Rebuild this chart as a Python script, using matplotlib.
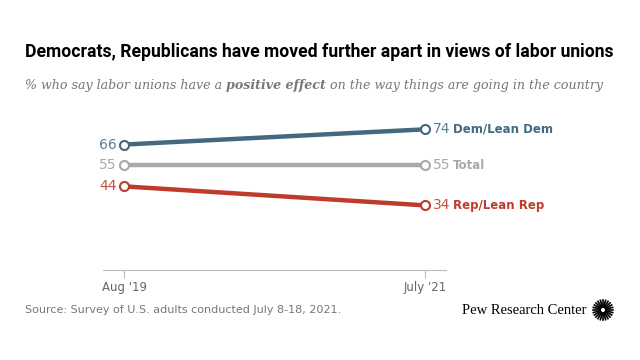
import matplotlib
matplotlib.use("Agg")
import matplotlib.pyplot as plt
import numpy as np

# data
periods = ["Aug '19", "July '21"]
dem = [66, 74]
total = [55, 55]
rep = [44, 34]
series_names = ["Dem/Lean Dem", "Total", "Rep/Lean Rep"]
series_vals = [dem, total, rep]
colors = ["#44687f", "#a9a9a9", "#bf3b2b"]
num_colors = ["#5b7d95", "#a9a9a9", "#c9503d"]

fig = plt.figure(figsize=(6.4, 3.6), dpi=100)
ax = fig.add_axes([103 / 640, 0.25, (446 - 103) / 640, 0.528])
renderer = fig.canvas.get_renderer()

x = np.arange(len(periods))
for name, vals, c, nc in zip(series_names, series_vals, colors, num_colors):
    ax.plot(x, vals, color=c, lw=3.2, solid_capstyle="butt", zorder=2)
    ax.plot(x, vals, "o", ms=6.5, mfc="white", mec=c, mew=1.5, zorder=3)
    ax.text(x[0] - 0.025, vals[0], str(vals[0]), color=nc, fontsize=10,
            ha="right", va="center")
    ax.text(x[-1] + 0.025, vals[-1], str(vals[-1]), color=nc, fontsize=10,
            ha="left", va="center")
    ax.text(x[-1] + 0.093, vals[-1], name, color=c, fontsize=8.5,
            fontweight="bold", ha="left", va="center")

ax.set_xlim(-0.07, 1.07)
ax.set_ylim(0, 100)
ax.set_xticks(x)
ax.set_xticklabels(periods, fontsize=8.5, color="#666666")
ax.set_yticks([])
for s in ["top", "right", "left"]:
    ax.spines[s].set_visible(False)
ax.spines["bottom"].set_color("#bbbbbb")
ax.tick_params(axis="x", length=6, color="#bbbbbb", pad=2)


def fit_width(t, target_px):
    w = t.get_window_extent(renderer).width
    t.set_fontsize(t.get_fontsize() * target_px / w)


title = fig.text(25 / 640, 1 - 52 / 360,
                 "Democrats, Republicans have moved further apart in views of labor unions",
                 fontsize=12, fontweight="bold", family="Roboto",
                 va="center", ha="left", color="black")
fit_width(title, 588)

# subtitle in three pieces so the middle part can be bold italic
parts = ["% who say labor unions have a ", "positive effect",
         " on the way things are going in the country"]
weights = ["normal", "bold", "normal"]
sub_size = 10
pieces = []
xpos = 25
for p, wgt in zip(parts, weights):
    t = fig.text(xpos / 640, 1 - 85 / 360, p, fontsize=sub_size, style="italic",
                 fontweight=wgt, family="DejaVu Serif", color="#777777",
                 va="center", ha="left")
    pieces.append(t)
    xpos += t.get_window_extent(renderer).width
scale = 575 / (xpos - 25)
xpos = 25
for t in pieces:
    t.set_fontsize(sub_size * scale)
    t.set_x(xpos / 640)
    xpos += t.get_window_extent(renderer).width

fig.text(25 / 640, 1 - 310 / 360,
         "Source: Survey of U.S. adults conducted July 8-18, 2021.",
         fontsize=8, color="#777777", va="center", ha="left")
fig.text(586 / 640, 1 - 310 / 360, "Pew Research Center", fontsize=10.5,
         family="Liberation Serif", color="black", va="center", ha="right")

# small sunburst logo
lx, ly = 603, 310
angles = np.linspace(0, 2 * np.pi, 24, endpoint=False)
for a in angles:
    fig.add_artist(plt.Line2D([(lx + 3 * np.cos(a)) / 640, (lx + 10 * np.cos(a)) / 640],
                              [1 - (ly + 3 * np.sin(a)) / 360, 1 - (ly + 10 * np.sin(a)) / 360],
                              color="black", lw=1.2))

fig.savefig("out.png", dpi=100)
